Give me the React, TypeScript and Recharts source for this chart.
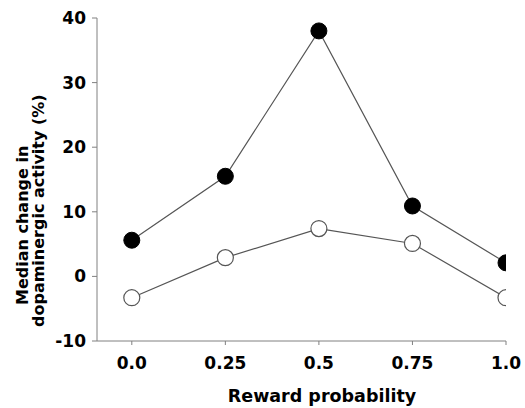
import React from 'react';
import { LineChart, Line, XAxis, YAxis, Label } from 'recharts';

const probabilities = [0, 0.25, 0.5, 0.75, 1];
const filledValues = [5.6, 15.5, 38.0, 10.9, 2.1];
const openValues = [-3.3, 2.9, 7.4, 5.1, -3.3];
const xTickLabels = ['0.0', '0.25', '0.5', '0.75', '1.0'];
const yTicks = [-10, 0, 10, 20, 30, 40];

const data = probabilities.map((p, i) => ({
    p,
    filled: filledValues[i],
    open: openValues[i],
}));

const FONT = '"DejaVu Sans", Verdana, sans-serif';
const AXIS_COLOR = '#808080';
const LINE_COLOR = '#555555';

const tickStyle = { fontFamily: FONT, fontSize: 17, fontWeight: 'bold', fill: '#000' };

const YTitle = () => (
    <text
        transform="translate(28, 305) rotate(-90)"
        textAnchor="start"
        style={{ fontFamily: FONT, fontSize: 16, fontWeight: 'bold' }}
        fill="#000"
    >
        <tspan x={0} y={0}>Median change in</tspan>
        <tspan x={-22} dy={15.5}>dopaminergic activity (%)</tspan>
    </text>
);

const XTitle = () => (
    <text
        x={322}
        y={401.5}
        textAnchor="middle"
        style={{ fontFamily: FONT, fontSize: 17.5, fontWeight: 'bold' }}
        fill="#000"
    >
        Reward probability
    </text>
);

export default function App() {
    return (
        <div style={{ position: 'absolute', left: 0, top: 0, background: '#fff' }}>
            <LineChart
                width={525}
                height={408}
                data={data}
                margin={{ top: 18, right: 19, bottom: 0, left: 0 }}
            >
                <XAxis
                    dataKey="p"
                    type="number"
                    domain={[-0.093, 1]}
                    ticks={probabilities}
                    tickFormatter={(v: number) => xTickLabels[probabilities.indexOf(v)] ?? String(v)}
                    height={67}
                    stroke={AXIS_COLOR}
                    tickSize={4}
                    tickMargin={12}
                    tick={tickStyle}
                    allowDataOverflow
                >
                    <Label content={<XTitle />} />
                </XAxis>
                <YAxis
                    type="number"
                    domain={[-10, 40]}
                    ticks={yTicks}
                    width={97}
                    stroke={AXIS_COLOR}
                    tickSize={5}
                    tickMargin={6}
                    tick={tickStyle}
                >
                    <Label content={<YTitle />} />
                </YAxis>
                <Line
                    dataKey="filled"
                    stroke={LINE_COLOR}
                    strokeWidth={1.2}
                    dot={{ r: 8, fill: '#000', stroke: '#000', strokeWidth: 1 }}
                    activeDot={false}
                    isAnimationActive={false}
                />
                <Line
                    dataKey="open"
                    stroke={LINE_COLOR}
                    strokeWidth={1.2}
                    dot={{ r: 8, fill: '#fff', stroke: LINE_COLOR, strokeWidth: 1.2 }}
                    activeDot={false}
                    isAnimationActive={false}
                />
            </LineChart>
        </div>
    );
}
